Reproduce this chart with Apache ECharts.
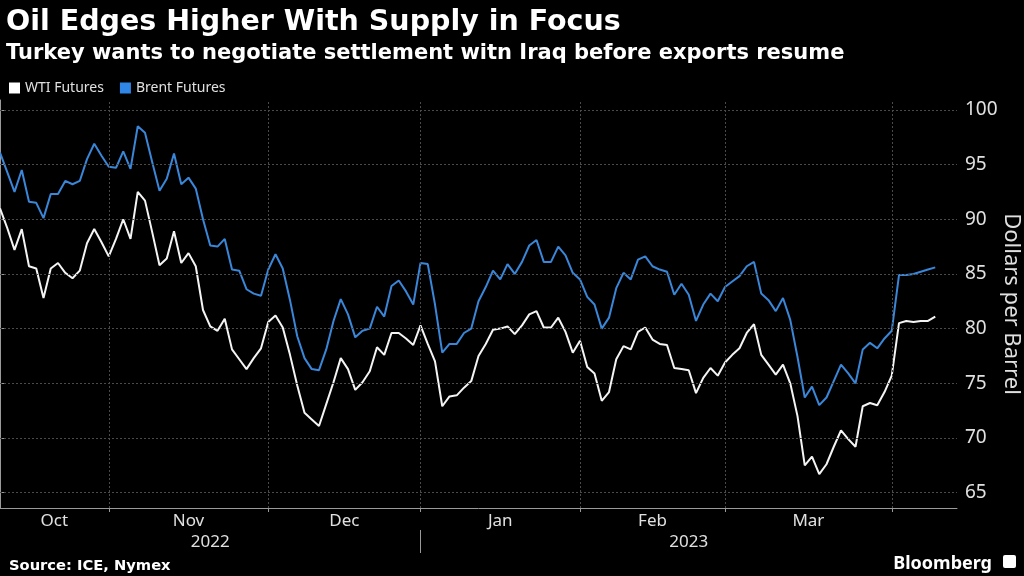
<!DOCTYPE html>
<html><head><meta charset="utf-8">
<script src="https://cdn.jsdelivr.net/npm/echarts@6/dist/echarts.min.js"></script>
<style>html,body{margin:0;padding:0;background:#000;}#c{width:1024px;height:576px;}</style>
</head><body><div id="c"></div>
<script>
// ---- data ----
const startDate = '2022-10-10';
const pointCount = 130;
const closedDays = ['2022-12-26', '2023-04-07'];
const monthLabels = ['Oct', 'Nov', 'Dec', 'Jan', 'Feb', 'Mar'];
const yearLabels = ['2022', '2023'];
const yTicks = [65, 70, 75, 80, 85, 90, 95, 100];
const yMinorTicks = [67.5, 72.5, 77.5, 82.5, 87.5, 92.5, 97.5];
const xMax = 132;
const yMin = 63.6, yMax = 100.9;

const wti = [
  91.0, 89.2, 87.2, 89.1, 85.7, 85.5, 82.8, 85.5, 86.0, 85.1,
  84.6, 85.3, 87.8, 89.1, 87.9, 86.6, 88.2, 90.0, 88.2, 92.5,
  91.7, 88.8, 85.8, 86.4, 88.9, 86.0, 86.9, 85.7, 81.7, 80.2,
  79.8, 80.9, 78.1, 77.2, 76.3, 77.3, 78.2, 80.6, 81.2, 80.1,
  77.6, 74.8, 72.3, 71.7, 71.1, 73.1, 75.1, 77.3, 76.3, 74.4,
  75.1, 76.1, 78.3, 77.6, 79.6, 79.6, 79.1, 78.5, 80.3, 78.6,
  77.0, 72.9, 73.8, 73.9, 74.6, 75.2, 77.5, 78.6, 79.9, 80.0,
  80.2, 79.5, 80.3, 81.3, 81.6, 80.1, 80.1, 81.0, 79.7, 77.8,
  78.9, 76.5, 75.9, 73.4, 74.2, 77.2, 78.4, 78.1, 79.7, 80.1,
  79.0, 78.6, 78.5, 76.4, 76.3, 76.2, 74.1, 75.5, 76.4, 75.7,
  76.9, 77.6, 78.2, 79.6, 80.4, 77.6, 76.7, 75.8, 76.7, 75.0,
  72.0, 67.5, 68.3, 66.7, 67.6, 69.2, 70.7, 69.9, 69.2, 72.9,
  73.2, 73.0, 74.2, 75.7, 80.5, 80.7, 80.6, 80.7, 80.7, 81.1
];
const brent = [
  96.1, 94.3, 92.5, 94.5, 91.6, 91.5, 90.1, 92.3, 92.3, 93.5,
  93.2, 93.5, 95.5, 96.9, 95.8, 94.8, 94.7, 96.2, 94.6, 98.5,
  97.9, 95.2, 92.6, 93.7, 96.0, 93.2, 93.8, 92.8, 90.0, 87.6,
  87.5, 88.2, 85.4, 85.3, 83.6, 83.2, 83.0, 85.4, 86.8, 85.5,
  82.6, 79.3, 77.3, 76.3, 76.2, 78.1, 80.7, 82.7, 81.3, 79.2,
  79.8, 80.0, 82.0, 81.1, 83.9, 84.4, 83.4, 82.2, 86.0, 85.9,
  82.2, 77.8, 78.6, 78.6, 79.6, 80.0, 82.5, 83.8, 85.3, 84.5,
  85.9, 85.0, 86.1, 87.6, 88.1, 86.1, 86.1, 87.5, 86.7, 85.1,
  84.5, 82.9, 82.2, 80.0, 81.0, 83.7, 85.1, 84.5, 86.3, 86.6,
  85.7, 85.4, 85.2, 83.1, 84.1, 83.1, 80.7, 82.2, 83.2, 82.5,
  83.8, 84.3, 84.8, 85.7, 86.1, 83.2, 82.6, 81.6, 82.8, 80.8,
  77.4, 73.7, 74.7, 73.0, 73.7, 75.2, 76.7, 75.9, 75.0, 78.1,
  78.7, 78.2, 79.1, 79.8, 84.9, 84.9, 85.0, 85.2, 85.4, 85.6
];

// ---- trading-day categories ----
function tradingDays(start, n, closed) {
  const out = [];
  const d = new Date(start + 'T00:00:00Z');
  while (out.length < n) {
    const dow = d.getUTCDay();
    const s = d.toISOString().slice(0, 10);
    if (dow !== 0 && dow !== 6 && closed.indexOf(s) < 0) out.push(s);
    d.setUTCDate(d.getUTCDate() + 1);
  }
  return out;
}
const dates = tradingDays(startDate, pointCount, closedDays);
const monthEnds = [];
let yearEnd = 0;
for (let i = 0; i < dates.length - 1; i++) {
  if (dates[i].slice(0, 7) !== dates[i + 1].slice(0, 7)) monthEnds.push(i);
  if (dates[i].slice(0, 4) !== dates[i + 1].slice(0, 4)) yearEnd = i;
}
const monthMids = monthLabels.map((m, k) => ((k === 0 ? 0 : monthEnds[k - 1]) + monthEnds[k]) / 2);
const yearMids = [yearEnd / 2, (yearEnd + xMax) / 2];

function labelAt(positions, labels) {
  return function (v) {
    for (let k = 0; k < positions.length; k++) if (Math.abs(positions[k] - v) < 1e-6) return labels[k];
    return '';
  };
}

const FONT = 'Noto Sans';
const BOLD_FONT = 'DejaVu Sans';
const AXIS_C = '#9a9a9a';
const TXT_C = '#e0e0e0';
const GRID_C = '#4a4a4a';

const chart = echarts.init(document.getElementById('c'), null, { renderer: 'canvas' });
chart.setOption({
  backgroundColor: '#000',
  animation: false,
  textStyle: { fontFamily: FONT },
  title: [
    { text: 'Oil Edges Higher With Supply in Focus', left: 1, top: 3,
      textStyle: { color: '#fff', fontSize: 28.5, fontWeight: 'bold', fontFamily: BOLD_FONT } },
    { text: 'Turkey wants to negotiate settlement witn Iraq before exports resume', left: 1, top: 38,
      textStyle: { color: '#fff', fontSize: 21, fontWeight: 'bold', fontFamily: BOLD_FONT } },
    { text: 'Source: ICE, Nymex', left: 4, top: 554,
      textStyle: { color: '#fff', fontSize: 14.7, fontWeight: 'bold', fontFamily: BOLD_FONT } },
    { text: 'Bloomberg', right: 27, top: 550,
      textStyle: { color: '#fff', fontSize: 18, fontWeight: 'bold', fontFamily: FONT } }
  ],
  graphic: [
    { type: 'rect', right: 8, top: 555, shape: { width: 13, height: 13, r: 2 }, style: { fill: '#fff' } }
  ],
  legend: {
    left: 4, top: 76, icon: 'rect', itemWidth: 11, itemHeight: 11, itemGap: 16,
    textStyle: { color: TXT_C, fontSize: 14, fontFamily: FONT },
    data: ['WTI Futures', 'Brent Futures']
  },
  grid: { left: 0, right: 67, top: 100, bottom: 68, containLabel: false, outerBoundsMode: 'none' },
  xAxis: [
    {
      type: 'value', min: 0, max: xMax, position: 'bottom',
      axisLine: { show: true, lineStyle: { color: AXIS_C, width: 1 } },
      axisTick: { show: true, customValues: monthEnds, length: 4, lineStyle: { color: AXIS_C } },
      axisLabel: { show: true, customValues: monthMids, formatter: labelAt(monthMids, monthLabels),
        color: TXT_C, fontSize: 17, margin: 5, fontFamily: FONT },
      splitLine: { show: false }
    },
    {
      type: 'value', min: 0, max: xMax, position: 'bottom', offset: 22,
      axisLine: { show: false },
      axisTick: { show: true, customValues: [yearEnd], length: 23, lineStyle: { color: AXIS_C } },
      axisLabel: { show: true, customValues: yearMids, formatter: labelAt(yearMids, yearLabels),
        color: TXT_C, fontSize: 17, margin: 4, fontFamily: FONT },
      splitLine: { show: false }
    }
  ],
  yAxis: [
    {
      type: 'value', min: yMin, max: yMax, position: 'right',
      name: 'Dollars per Barrel', nameLocation: 'middle', nameRotate: -90, nameGap: 43,
      nameMoveOverlap: false,
      nameTextStyle: { color: TXT_C, fontSize: 22, fontFamily: FONT },
      axisLine: { show: true, lineStyle: { color: AXIS_C, width: 1 } },
      axisTick: { show: true, customValues: yTicks, length: 4, lineStyle: { color: AXIS_C } },
      axisLabel: { show: true, customValues: yTicks, color: TXT_C, fontSize: 19, margin: 8, fontFamily: FONT },
      splitLine: { show: false }
    },
    {
      type: 'value', min: yMin, max: yMax, position: 'right',
      axisLine: { show: false },
      axisTick: { show: true, customValues: yMinorTicks, inside: true, length: 3, lineStyle: { color: AXIS_C } },
      axisLabel: { show: false },
      splitLine: { show: false }
    }
  ],
  series: [
    {
      name: 'WTI Futures', type: 'line', xAxisIndex: 0, yAxisIndex: 0,
      data: wti.map((v, i) => [i, v]), showSymbol: false, symbol: 'none',
      lineStyle: { color: '#f4f4f4', width: 2 }, itemStyle: { color: '#ffffff' }, z: 3,
      markLine: {
        silent: true, symbol: 'none', label: { show: false }, animation: false,
        lineStyle: { color: GRID_C, type: [2, 2], width: 1 },
        emphasis: { disabled: true },
        data: monthEnds.map(i => ({ xAxis: i })).concat(yTicks.map(v => ({ yAxis: v })))
      }
    },
    {
      name: 'Brent Futures', type: 'line', xAxisIndex: 0, yAxisIndex: 0,
      data: brent.map((v, i) => [i, v]), showSymbol: false, symbol: 'none',
      lineStyle: { color: '#3a86d8', width: 2 }, itemStyle: { color: '#2f86e6' }, z: 4
    }
  ]
});
</script></body></html>
